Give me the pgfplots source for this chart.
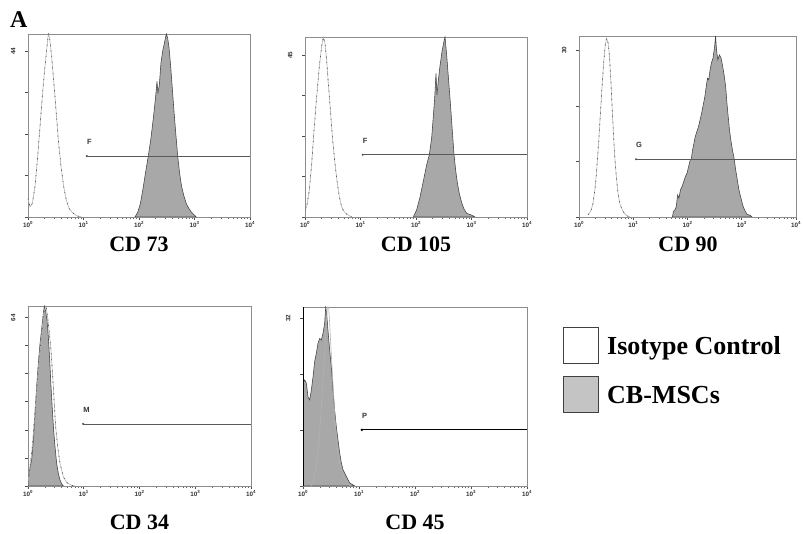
\documentclass[border=0pt]{standalone}
\usepackage{fontspec}
\setmainfont{Liberation Serif}
\setsansfont{Liberation Sans}
\usepackage{pgfplots}
\pgfplotsset{compat=1.18}

\definecolor{fillg}{RGB}{168,168,168}
\definecolor{legg}{RGB}{196,196,196}
\definecolor{frameg}{RGB}{140,140,140}

\pgfplotsset{
 facs/.style={
  scale only axis, anchor=south west,
  xmin=0, xmax=4, ymin=0,
  xtick={0,1,2,3,4},
  xticklabels={10\textsuperscript{0},10\textsuperscript{1},10\textsuperscript{2},10\textsuperscript{3},10\textsuperscript{4}},
  minor xtick={0.301,0.477,0.602,0.699,0.778,0.845,0.903,0.954,
               1.301,1.477,1.602,1.699,1.778,1.845,1.903,1.954,
               2.301,2.477,2.602,2.699,2.778,2.845,2.903,2.954,
               3.301,3.477,3.602,3.699,3.778,3.845,3.903,3.954},
  tick align=outside, xtick pos=bottom, ytick pos=left,
  major tick length=3pt, minor tick length=1.6pt,
  major tick style={black!70, line width=0.6pt},
  minor tick style={black!60, line width=0.45pt},
  axis line style={frameg, line width=0.8pt},
  ticklabel style={font=\fontsize{6.3}{7}\selectfont\sffamily\bfseries, text=black!80},
  xticklabel style={inner sep=1.5pt},
  yticklabel style={xshift=-6pt, rotate=90, anchor=south},
 },
 iso/.style={draw=black!30, line width=0.6pt},
 isodash/.style={draw=black!65, line width=0.7pt, dash pattern=on 1.2pt off 4.5pt},
 pos/.style={fill=fillg, draw=black!75, line width=0.55pt},
 gate/.style={draw=black!65, line width=0.7pt, mark=*, mark size=0.6pt, mark indices={1}, mark options={solid}},
}
\tikzset{gatelbl/.style={anchor=south west, font=\fontsize{7.5}{7.5}\selectfont\sffamily\bfseries, inner sep=0pt, yshift=11pt, text=black!80}}

\begin{document}
\begin{tikzpicture}[x=1pt,y=1pt]
\path[use as bounding box] (0,0) rectangle (803,534);

% ---------- CD 73 ----------
\begin{axis}[facs, at={(28pt,317pt)}, width=222pt, height=183pt,
  ymax=48.6, ytick={0,11,22,33,44}, yticklabels={,,,,44}]
\addplot[pos] coordinates {(1.928,0) (1.976,1.2) (2.024,3.5) (2.072,7.5) (2.12,12) (2.168,16.2) (2.216,21) (2.264,27) (2.3,32) (2.324,36) (2.342,33) (2.366,35) (2.396,41) (2.432,44.5) (2.462,46.5) (2.492,48.6) (2.517,47.5) (2.541,45) (2.571,40) (2.601,34) (2.631,28) (2.661,22.5) (2.697,16.2) (2.733,11.5) (2.769,8) (2.811,5.5) (2.853,3.5) (2.901,2.2) (2.949,1.2) (2.997,0.5) (3.033,0)} \closedcycle;
\addplot[iso] coordinates {(0,4.9) (0.036,2.7) (0.078,3.6) (0.126,8.1) (0.174,16) (0.216,24) (0.258,32) (0.306,40) (0.342,45.2) (0.366,48.6) (0.39,47.5) (0.426,42.6) (0.462,36.4) (0.505,28.4) (0.547,20.4) (0.595,13.4) (0.643,8.1) (0.69,4.5) (0.739,2.3) (0.8,1.2) (0.877,0.3) (0.967,0)};
\addplot[isodash] coordinates {(0,4.9) (0.036,2.7) (0.078,3.6) (0.126,8.1) (0.174,16) (0.216,24) (0.258,32) (0.306,40) (0.342,45.2) (0.366,48.6) (0.39,47.5) (0.426,42.6) (0.462,36.4) (0.505,28.4) (0.547,20.4) (0.595,13.4) (0.643,8.1) (0.69,4.5) (0.739,2.3) (0.8,1.2) (0.877,0.3) (0.967,0)};
\addplot[gate] coordinates {(1.06,16.2) (4,16.2)};
\node[gatelbl] at (axis cs:1.06,16.2) {F};
\end{axis}

% ---------- CD 105 ----------
\begin{axis}[facs, at={(305pt,317pt)}, width=222pt, height=180pt,
  ymax=50.1, ytick={0,11.25,22.5,33.75,45}, yticklabels={,,,,45}]
\addplot[pos] coordinates {(1.952,0) (2.012,2) (2.072,5.5) (2.132,10) (2.192,14.5) (2.24,17.3) (2.282,22) (2.312,28) (2.336,33) (2.36,40) (2.378,34) (2.402,38) (2.432,42) (2.468,46) (2.505,49) (2.523,50.1) (2.553,45) (2.583,39) (2.613,33) (2.643,26.5) (2.673,20) (2.685,17.3) (2.715,13) (2.745,9.5) (2.781,6.5) (2.823,4) (2.865,2.2) (2.913,1) (2.973,0.7) (3.033,0.3) (3.063,0)} \closedcycle;
\addplot[iso] coordinates {(0,2) (0.03,2.8) (0.078,7.5) (0.12,14.7) (0.162,24) (0.21,33.5) (0.258,41.9) (0.3,47.5) (0.33,50.1) (0.36,48.3) (0.39,43.7) (0.42,37.2) (0.462,28.8) (0.498,21.4) (0.54,14.9) (0.583,9.3) (0.619,5.6) (0.66,2.8) (0.703,1.5) (0.75,0.8) (0.84,0)};
\addplot[isodash] coordinates {(0,2) (0.03,2.8) (0.078,7.5) (0.12,14.7) (0.162,24) (0.21,33.5) (0.258,41.9) (0.3,47.5) (0.33,50.1) (0.36,48.3) (0.39,43.7) (0.42,37.2) (0.462,28.8) (0.498,21.4) (0.54,14.9) (0.583,9.3) (0.619,5.6) (0.66,2.8) (0.703,1.5) (0.75,0.8) (0.84,0)};
\addplot[gate] coordinates {(1.04,17.3) (4,17.3)};
\node[gatelbl] at (axis cs:1.04,17.3) {F};
\end{axis}

% ---------- CD 90 ----------
\begin{axis}[facs, at={(579pt,317pt)}, width=217pt, height=181pt,
  ymax=32.6, ytick={0,10,20,30}, yticklabels={,,,30}]
\addplot[pos] coordinates {(1.722,0) (1.74,1.0) (1.77,1.3) (1.794,1.9) (1.818,4.0) (1.842,3.4) (1.871,4.9) (1.901,5.5) (1.931,6.4) (1.961,7.3) (1.991,7.9) (2.021,9.1) (2.051,10.3) (2.069,10.4) (2.093,12.0) (2.117,13.2) (2.141,14.4) (2.17,15.3) (2.2,16.2) (2.23,17.4) (2.26,18.7) (2.29,20.2) (2.32,21.7) (2.35,23.8) (2.368,25) (2.392,24.7) (2.416,26.5) (2.44,27.7) (2.47,28.6) (2.5,30.7) (2.517,32.6) (2.535,30.1) (2.559,28.3) (2.589,29.2) (2.619,28.6) (2.649,27.1) (2.679,25.3) (2.703,23.5) (2.727,20.5) (2.75,18.1) (2.774,15.7) (2.798,13.9) (2.828,12.1) (2.858,10.6) (2.888,8.5) (2.918,6.7) (2.948,4.9) (2.978,3.7) (3.008,2.5) (3.037,1.6) (3.067,1.0) (3.097,0.5) (3.157,0.3) (3.187,0)} \closedcycle;
\addplot[iso] coordinates {(0.167,0.4) (0.215,1) (0.257,2.4) (0.3,5.5) (0.335,9.7) (0.365,13.9) (0.395,18.7) (0.425,23.5) (0.454,27.7) (0.484,31) (0.508,32.2) (0.538,31.3) (0.562,28.9) (0.586,24.7) (0.61,19.9) (0.634,15.2) (0.658,10.9) (0.688,7.3) (0.718,4.3) (0.753,2.4) (0.795,1.3) (0.837,0.66) (0.885,0.2) (0.945,0)};
\addplot[isodash] coordinates {(0.167,0.4) (0.215,1) (0.257,2.4) (0.3,5.5) (0.335,9.7) (0.365,13.9) (0.395,18.7) (0.425,23.5) (0.454,27.7) (0.484,31) (0.508,32.2) (0.538,31.3) (0.562,28.9) (0.586,24.7) (0.61,19.9) (0.634,15.2) (0.658,10.9) (0.688,7.3) (0.718,4.3) (0.753,2.4) (0.795,1.3) (0.837,0.66) (0.885,0.2) (0.945,0)};
\addplot[gate] coordinates {(1.05,10.4) (4,10.4)};
\node[gatelbl] at (axis cs:1.05,10.4) {G};
\end{axis}

% ---------- CD 34 ----------
\begin{axis}[facs, at={(28pt,48pt)}, width=223pt, height=180pt,
  ymax=68.4, ytick={0,10.667,21.333,32,42.667,53.333,64}, yticklabels={,,,,,,64}]
\addplot[pos] coordinates {(0,3) (0.018,4) (0.036,7) (0.066,10) (0.096,17.5) (0.126,27.6) (0.155,37.7) (0.185,46.6) (0.215,54) (0.245,59.7) (0.275,65.6) (0.293,68.4) (0.317,66.3) (0.341,63) (0.365,56.7) (0.389,48) (0.413,37.7) (0.437,28.9) (0.46,21.3) (0.484,15) (0.514,8.6) (0.544,4.8) (0.574,2.3) (0.604,0.8) (0.634,0)} \closedcycle;
\addplot[iso] coordinates {(0,1.5) (0.036,7.3) (0.078,14.9) (0.114,25) (0.155,36.4) (0.197,47.8) (0.245,57.9) (0.281,65.5) (0.305,67.6) (0.329,67.8) (0.365,61.8) (0.413,51.6) (0.454,37.7) (0.496,22.5) (0.532,14.9) (0.574,8.6) (0.634,3.5) (0.694,1.3) (0.783,0.25) (0.843,0)};
\addplot[isodash] coordinates {(0,1.5) (0.036,7.3) (0.078,14.9) (0.114,25) (0.155,36.4) (0.197,47.8) (0.245,57.9) (0.281,65.5) (0.305,67.6) (0.329,67.8) (0.365,61.8) (0.413,51.6) (0.454,37.7) (0.496,22.5) (0.532,14.9) (0.574,8.6) (0.634,3.5) (0.694,1.3) (0.783,0.25) (0.843,0)};
\addplot[gate] coordinates {(0.99,23.6) (4,23.6)};
\node[gatelbl] at (axis cs:0.99,23.6) {M};
\end{axis}

% ---------- CD 45 ----------
\begin{axis}[facs, at={(303pt,48pt)}, width=224pt, height=179pt,
  ymax=34.1, ytick={0,10.667,21.333,32}, yticklabels={,,,32}]
\addplot[pos] coordinates {(0,19.6) (0.03,20.2) (0.06,19.6) (0.089,17) (0.119,16.4) (0.149,18.3) (0.179,20.8) (0.208,23.7) (0.238,25.3) (0.268,27.2) (0.298,28.1) (0.327,27.8) (0.357,29.1) (0.387,31) (0.405,34.1) (0.423,32.8) (0.446,29.7) (0.476,25.9) (0.506,22.7) (0.536,18.3) (0.565,14.5) (0.595,11.3) (0.625,8.8) (0.655,6.3) (0.685,4.4) (0.714,3.1) (0.744,2.5) (0.774,1.8) (0.804,1.2) (0.833,0.6) (0.863,0.4) (0.923,0)} \closedcycle;
\addplot[iso] coordinates {(0.149,0) (0.196,1.5) (0.238,4) (0.28,8) (0.315,13) (0.351,19) (0.387,25.5) (0.417,31) (0.435,34.1) (0.458,34.1) (0.476,31) (0.506,25) (0.542,18) (0.577,12) (0.613,7.5) (0.655,4.5) (0.696,2.5) (0.744,1.2) (0.804,0.4) (0.863,0)};
\addplot[gate, draw=black, line width=1.1pt] coordinates {(1.05,10.7) (4,10.7)};
\node[gatelbl] at (axis cs:1.05,10.7) {P};
\draw[black, line width=1.2pt] (rel axis cs:0,0) -- (rel axis cs:0,1);
\end{axis}

% ---------- panel letter, sample names, key ----------
\node[anchor=base west, inner sep=0pt, font=\fontsize{24}{24}\selectfont\bfseries] at (10,506) {A};
\begin{scope}[every node/.style={anchor=base, inner sep=0pt, font=\fontsize{22}{24}\selectfont\bfseries}]
\node at (139,282) {CD 73};
\node at (416,282) {CD 105};
\node at (688,282) {CD 90};
\node at (139.5,4) {CD 34};
\node at (415,4) {CD 45};
\end{scope}
\draw[black!75, line width=1pt, fill=white] (563,170) rectangle (598,206);
\draw[black!75, line width=1pt, fill=legg] (563,121) rectangle (598,157);
\begin{scope}[every node/.style={anchor=base west, inner sep=0pt, font=\fontsize{26}{28}\selectfont\bfseries}]
\node at (607,179) {Isotype Control};
\node at (607,130) {CB-MSCs};
\end{scope}
\end{tikzpicture}
\end{document}
